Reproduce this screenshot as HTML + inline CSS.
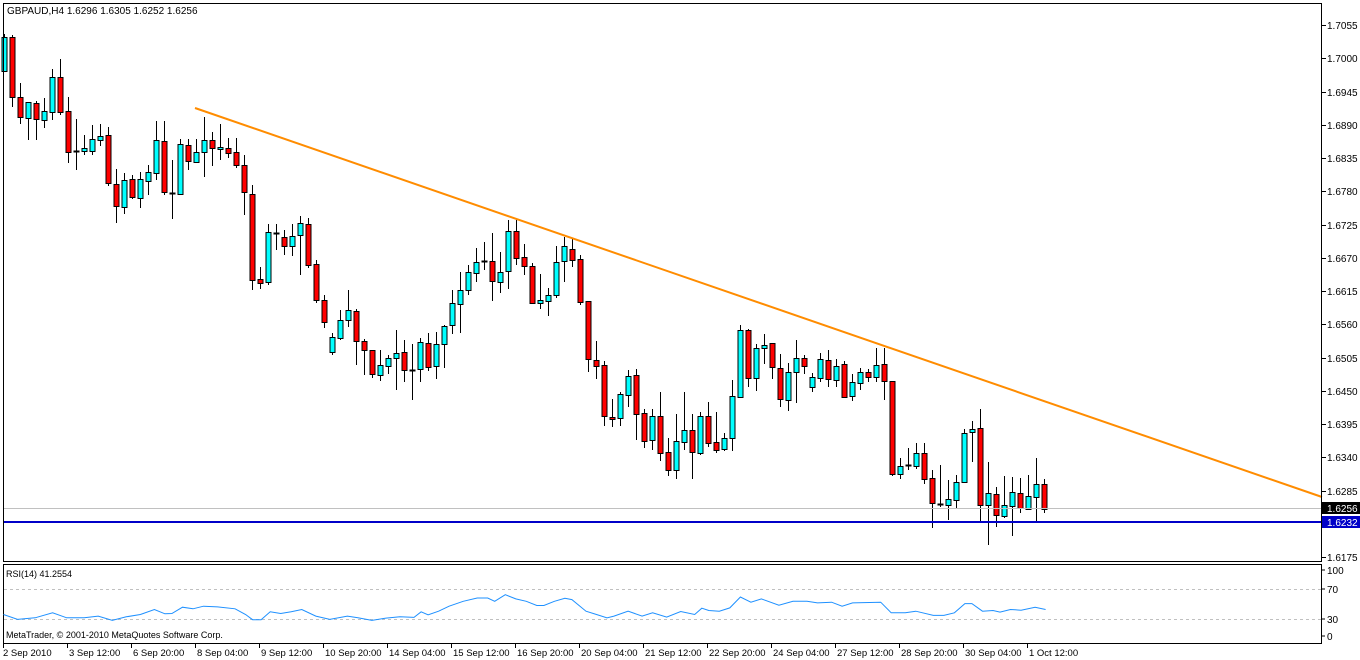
<!DOCTYPE html>
<html><head><meta charset="utf-8"><style>
html,body{margin:0;padding:0;background:#fff;}
svg{display:block;}
text{font-family:"Liberation Sans",sans-serif;font-size:10px;fill:#000;}
</style></head><body>
<svg id="s" width="1360" height="660" xmlns="http://www.w3.org/2000/svg">
<rect x="0" y="0" width="1360" height="660" fill="#fff"/>
<g id="cnd"></g>
<line x1="3" y1="508.5" x2="1322" y2="508.5" stroke="#c0c0c0" stroke-width="1"/>
<line x1="3" y1="522" x2="1322" y2="522" stroke="#0000c8" stroke-width="2"/>
<line x1="195" y1="108" x2="1322" y2="497" stroke="#ff8c00" stroke-width="2"/>
<rect x="3.5" y="3.5" width="1318" height="558" fill="none" stroke="#000" stroke-width="1"/>
<rect x="3.5" y="564.5" width="1318" height="79" fill="none" stroke="#000" stroke-width="1"/>
<line x1="4" y1="589.5" x2="1321" y2="589.5" stroke="#c0c0c0" stroke-dasharray="3,3"/>
<line x1="4" y1="619.5" x2="1321" y2="619.5" stroke="#c0c0c0" stroke-dasharray="3,3"/>
<polyline id="rsi" fill="none" stroke="#1e90ff" stroke-width="1"/>
<g id="ax"></g>
<text x="7" y="14">GBPAUD,H4  1.6296 1.6305 1.6252 1.6256</text>
<text x="6" y="577" style="font-size:9px">RSI(14) 41.2554</text>
<text x="6" y="638" style="font-size:9px">MetaTrader, © 2001-2010 MetaQuotes Software Corp.</text>
<rect x="1322" y="502" width="38" height="12" fill="#000"/>
<text x="1327" y="512" style="fill:#fff">1.6256</text>
<rect x="1322" y="516" width="38" height="12" fill="#0000c8"/>
<text x="1327" y="526" style="fill:#fff">1.6232</text>
<text x="1327" y="574">100</text><text x="1327" y="593">70</text>
<text x="1327" y="623">30</text><text x="1327" y="640">0</text>
<line x1="1322" y1="570" x2="1325" y2="570" stroke="#000"/>
<line x1="1322" y1="589" x2="1325" y2="589" stroke="#000"/>
<line x1="1322" y1="619" x2="1325" y2="619" stroke="#000"/>
<line x1="1322" y1="636" x2="1325" y2="636" stroke="#000"/>
</svg>
<script>
var NS="http://www.w3.org/2000/svg";
function el(p,t,a,txt){var e=document.createElementNS(NS,t);for(var k in a)e.setAttribute(k,a[k]);if(txt!=null)e.textContent=txt;p.appendChild(e);return e;}
// [color(c=cyan up, r=red, d=doji), bodyTop, bodyBot, wickTop, wickBot]
var C=[
['c',37,71,34,71],['r',37,97,35,107],['r',97,117,83,124],['c',102,118,102,140],['r',103,119,101,140],['c',111,120,98,128],['c',77,112,69,120],['r',77,112,59,115],['r',111,152,97,163],['d',151,151,119,170],
['c',148,151,135,155],['c',139,151,125,155],['c',136,140,124,146],['r',135,183,127,186],['r',184,206,169,223],['c',180,207,173,214],['r',179,197,175,199],['c',179,198,172,208],['c',172,181,165,195],['c',140,173,121,180],
['r',141,192,121,195],['d',193,193,160,219],['c',144,194,139,194],['r',145,161,139,170],['c',152,162,139,162],['c',140,152,117,177],['r',140,148,132,166],['c',147,149,124,160],['r',148,153,138,158],['r',152,165,138,168],
['r',165,192,155,215],['r',194,280,185,290],['r',279,283,267,289],['c',232,282,224,285],['d',233,233,224,250],['r',237,246,230,255],['c',236,246,224,256],['c',223,235,216,275],['r',224,265,218,268],['r',264,300,260,303],
['r',300,322,295,328],['c',337,352,333,355],['c',320,338,310,340],['c',310,320,290,327],['r',311,341,309,365],['r',341,350,339,375],['r',350,374,350,378],['c',365,375,350,381],['c',358,366,355,374],['c',353,358,330,390],
['r',352,370,340,382],['d',370,370,344,400],['c',342,369,338,382],['r',343,367,333,371],['c',344,366,332,379],['c',326,344,325,368],['c',303,325,290,334],['c',290,304,272,333],['c',272,290,265,295],['c',262,273,248,282],
['d',261,261,242,270],['r',261,281,233,301],['c',272,282,252,293],['c',231,271,220,289],['r',231,258,220,265],['r',257,266,244,275],['r',266,303,263,304],['c',300,303,274,309],['c',295,301,288,316],['c',262,295,246,298],
['c',246,261,237,282],['r',249,260,238,267],['r',259,302,255,305],['r',301,359,301,372],['r',360,366,341,379],['r',365,416,361,426],['r',417,419,399,427],['c',394,418,392,426],['c',376,395,370,407],['r',375,414,369,440],
['r',413,441,409,448],['c',416,440,409,450],['r',416,453,392,461],['r',452,470,438,476],['c',441,470,414,479],['c',430,442,392,450],['r',430,452,414,479],['c',416,453,412,455],['r',416,443,402,447],['r',442,450,412,453],
['c',438,449,433,451],['c',396,438,380,451],['c',330,397,325,398],['r',330,378,329,387],['c',348,378,344,391],['c',345,348,334,364],['r',343,367,343,379],['r',368,399,354,407],['c',372,400,363,411],['c',358,372,340,403],
['r',358,366,355,374],['c',377,387,373,392],['c',359,378,353,382],['r',360,379,350,387],['c',366,380,359,387],['r',364,397,361,398],['c',382,396,374,401],['c',372,383,368,390],['r',372,377,369,382],['c',365,377,348,382],
['r',364,381,348,400],['r',381,474,381,476],['c',466,474,458,479],['d',465,465,448,470],['c',453,466,443,469],['r',453,479,443,484],['r',478,503,470,528],['d',504,504,465,507],['c',499,505,480,520],['c',482,500,475,508],
['c',433,482,429,483],['c',429,432,421,462],['r',428,505,409,523],['c',493,505,462,545],['r',494,515,487,527],['c',505,516,476,518],['c',492,506,477,536],['r',493,508,478,513],['c',496,509,475,510],['c',484,497,458,523],
['r',484,509,479,513]];
var g=document.getElementById('cnd');
C.forEach(function(c,i){var x=Math.round(3.5+8*i)+0.5;
 el(g,'line',{x1:x,y1:c[3],x2:x,y2:c[4],stroke:'#000','stroke-width':1});
 if(c[0]=='d'){el(g,'line',{x1:x-3,y1:c[1]+0.5,x2:x+3,y2:c[1]+0.5,stroke:'#000','stroke-width':2});}
 else{var h=Math.max(c[2]-c[1],2);el(g,'rect',{x:x-2.5,y:c[1]+0.5,width:5,height:h,fill:c[0]=='c'?'#00ffff':'#ff0000',stroke:'#000','stroke-width':1});}
});
// clip first candle region at left border
var ax=document.getElementById('ax');
var pl=['1.7055','1.7000','1.6945','1.6890','1.6835','1.6780','1.6725','1.6670','1.6615','1.6560','1.6505','1.6450','1.6395','1.6340','1.6285'];
pl.forEach(function(t,i){var y=Math.round(25+33.25*i);el(ax,'line',{x1:1322,y1:y+0.5,x2:1326,y2:y+0.5,stroke:'#000'});el(ax,'text',{x:1327,y:y+4},t);});
el(ax,'line',{x1:1322,y1:557.5,x2:1326,y2:557.5,stroke:'#000'});el(ax,'text',{x:1327,y:561},'1.6175');
var tl=['2 Sep 2010','3 Sep 12:00','6 Sep 20:00','8 Sep 04:00','9 Sep 12:00','10 Sep 20:00','14 Sep 04:00','15 Sep 12:00','16 Sep 20:00','20 Sep 04:00','21 Sep 12:00','22 Sep 20:00','24 Sep 04:00','27 Sep 12:00','28 Sep 20:00','30 Sep 04:00','1 Oct 12:00'];
tl.forEach(function(t,i){var x=3+64*i+(i?0:0);el(ax,'line',{x1:x+0.5,y1:644,x2:x+0.5,y2:648,stroke:'#000'});el(ax,'text',{x:x+(i?2:0),y:656,style:'font-size:9.5px'},t);});
var R=[[5,165],[25,180],[50,175],[75,160],[95,175],[120,175],[140,170],[160,183],[180,172],[200,165],[220,150],[235,163],[245,162],[260,143],[275,148],[290,140],[310,142],[335,148],[350,165],[360,181],[372,181],[385,157],[400,162],[415,157],[430,150],[450,170],[470,180],[495,170],[510,175],[530,183],[550,176],[570,172],[590,174],[600,157],[610,166],[625,155],[640,140],[660,125],[680,115],[695,115],[705,125],[720,105],[735,118],[750,125],[765,138],[775,138],[790,125],[805,116],[815,120],[835,155],[850,165],[865,175],[875,170],[895,155],[915,170],[930,160],[950,173],[970,156],[990,165],[1000,146],[1010,153],[1025,155],[1040,145],[1055,112],[1070,128],[1085,118],[1110,137],[1130,125],[1150,125],[1165,130],[1185,128],[1200,140],[1215,130],[1255,128],[1270,160],[1290,160],[1305,155],[1330,168],[1345,168],[1360,160],[1375,132],[1385,132],[1400,155],[1415,153],[1425,158],[1440,150],[1455,152],[1475,143],[1490,150]];
document.getElementById('rsi').setAttribute('points',R.map(function(p){return (p[0]/1.425).toFixed(1)+','+(560+p[1]/3.03).toFixed(1);}).join(' '));
</script>
</body></html>
